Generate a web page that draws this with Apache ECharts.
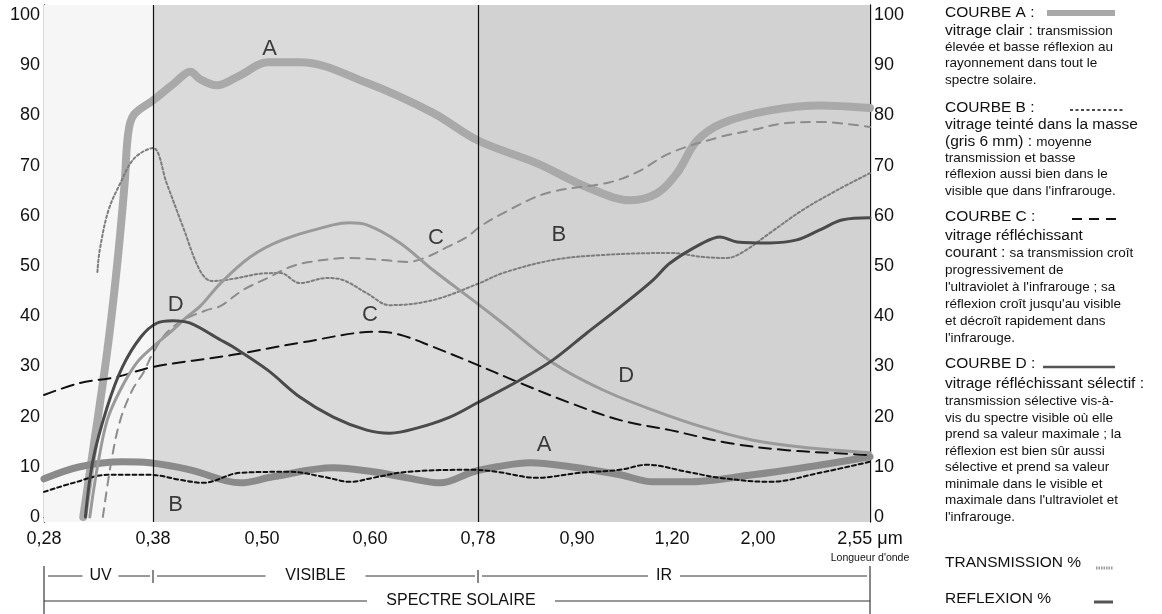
<!DOCTYPE html>
<html><head><meta charset="utf-8">
<script src="https://cdn.jsdelivr.net/npm/echarts@6/dist/echarts.min.js"></script>
<style>html,body{margin:0;padding:0;background:#fff}#c{width:1162px;height:614px}</style>
</head><body><div id="c"></div>
<script>
// ---------- DATA ----------
const xTickValues = [0.28, 0.38, 0.50, 0.60, 0.78, 0.90, 1.20, 2.00, 2.55];
const xTickLabels = ['0,28', '0,38', '0,50', '0,60', '0,78', '0,90', '1,20', '2,00', '2,55 \u03bcm'];
const yTickValues = [0, 10, 20, 30, 40, 50, 60, 70, 80, 90, 100];

// [wavelength (µm), %]
const aTransmission = [[0.316,0],[0.325,13.3],[0.338,33],[0.347,50],[0.354,66.5],[0.357,76],[0.362,80],[0.380,83],[0.404,86.5],[0.421,88.7],[0.432,87.2],[0.450,86],[0.476,88],[0.505,90.6],[0.535,90.6],[0.597,86.5],[0.705,80.5],[0.780,75],[0.851,70.5],[0.932,65.7],[1.068,63.1],[1.153,64.5],[1.247,68.5],[1.433,75],[1.674,78.5],[2.059,81],[2.304,82],[2.55,81.5]];
const aReflection = [[0.28,7.6],[0.313,10],[0.352,11],[0.377,10.8],[0.421,9.4],[0.476,6.8],[0.510,8],[0.566,9.8],[0.605,9],[0.662,7.8],[0.717,6.8],[0.772,9],[0.803,10],[0.843,10.8],[0.892,10],[1.036,8.4],[1.140,7],[1.340,7],[1.953,8.4],[2.221,9.8],[2.55,12]];
const bTransmission = [[0.329,48.8],[0.331,53],[0.339,61],[0.350,66.5],[0.363,71.5],[0.380,73.5],[0.395,66.5],[0.413,57.8],[0.432,49],[0.445,47],[0.470,47.5],[0.500,48.5],[0.517,48.6],[0.535,46.6],[0.560,47.6],[0.575,47.2],[0.597,44.6],[0.633,42.2],[0.705,43.2],[0.782,46.6],[0.810,48.6],[0.871,51.2],[0.982,52.2],[1.194,52.6],[1.488,51.8],[1.712,51.6],[1.861,52.8],[2.059,56.6],[2.221,61.2],[2.388,65.1],[2.55,68.5]];
const bReflection = [[0.28,5],[0.307,6.8],[0.338,8.4],[0.377,8.4],[0.410,7.4],[0.435,6.8],[0.476,8.8],[0.526,9],[0.557,8],[0.582,7],[0.605,7.8],[0.662,9],[0.772,9.4],[0.803,9],[0.851,7.8],[0.909,8.8],[1.036,9.4],[1.121,10.4],[1.340,9],[1.646,7.8],[2.059,7],[2.304,8.8],[2.55,11]];
const cTransmission = [[0.334,0],[0.342,11.4],[0.350,19.3],[0.361,25.3],[0.371,28.7],[0.380,32.7],[0.395,36.7],[0.413,39.2],[0.439,41.2],[0.454,42],[0.479,45.2],[0.505,47.6],[0.526,49.8],[0.544,50.8],[0.581,51.6],[0.622,51.2],[0.662,50.8],[0.695,51.8],[0.729,53.8],[0.762,55.8],[0.782,57.8],[0.810,60.5],[0.863,64.5],[1.004,66.7],[1.090,68.7],[1.194,72.5],[1.646,75.7],[1.953,77.1],[2.142,78.5],[2.304,78.7],[2.55,77.7]];
const cReflection = [[0.28,24.3],[0.313,26.7],[0.347,27.9],[0.380,29.9],[0.468,32.3],[0.535,34.7],[0.612,36.9],[0.650,36.3],[0.705,33.9],[0.767,30.9],[0.831,26.7],[0.892,22.7],[1.036,19.3],[1.194,17.3],[1.739,14.7],[2.142,13.3],[2.388,12.7],[2.55,12.3]];
const dTransmission = [[0.322,0],[0.329,10],[0.338,19.3],[0.350,25.3],[0.365,30.7],[0.380,33.9],[0.402,37.3],[0.417,39.8],[0.432,42],[0.454,46.5],[0.487,51.8],[0.519,55.2],[0.566,58.2],[0.581,58.6],[0.597,58.2],[0.650,54.6],[0.705,49.2],[0.778,42.6],[0.810,38.6],[0.871,30.7],[0.982,25.3],[1.140,21.3],[1.488,17.9],[1.953,15.3],[2.221,13.9],[2.55,12.8]];
const dReflection = [[0.318,0],[0.325,11.4],[0.338,21.9],[0.352,29.9],[0.369,35.9],[0.384,38.6],[0.402,39.1],[0.421,38.6],[0.454,35.3],[0.468,33.9],[0.505,29.3],[0.535,23.9],[0.566,19.9],[0.597,17.3],[0.633,16.7],[0.678,17.7],[0.733,19.9],[0.778,22.7],[0.831,27.3],[0.871,31.3],[0.932,36.7],[1.036,41.8],[1.140,47.2],[1.194,50.6],[1.488,54.6],[1.646,55.8],[1.805,54.8],[2.059,54.6],[2.191,55.2],[2.304,57.2],[2.417,59.2],[2.55,59.6]];

// curve letters [wavelength, %, text]
const curveLabels = [[0.507,93.3,'A'],[0.710,55.6,'C'],[0.878,56.2,'B'],[0.405,42.2,'D'],[0.600,40.2,'C'],[1.055,28.1,'D'],[0.860,14.3,'A'],[0.405,2.4,'B']];

// spectral bands
const bandBounds = [0.28, 0.38, 0.78, 2.55];
const bandNames = ['UV', 'VISIBLE', 'IR'];

// ---------- LAYOUT / STYLE ----------
const FONT = "'Liberation Sans', Arial, Helvetica, sans-serif";
const X_POS = [0, 109, 218, 326, 434, 533, 628, 714, 826]; // axis position of each tick (non-uniform scale)
function toPos(w) {
  const n = xTickValues.length;
  for (let i = 0; i < n - 1; i++) {
    const a = xTickValues[i], b = xTickValues[i + 1];
    if (w <= b || i === n - 2) return X_POS[i] + (w - a) / (b - a) * (X_POS[i + 1] - X_POS[i]);
  }
}
const mapData = arr => arr.map(p => [toPos(p[0]), p[1]]);

const GRID = {left: 44, right: 292, top: 5, bottom: 92};
const YMIN = -1, YMAX = 102;

function lineSeries(name, data, color, width, dash, z) {
  return {
    name, type: 'line', data: mapData(data), showSymbol: false, smooth: 0.35, z: z || 3,
    lineStyle: {color, width, type: dash || 'solid', cap: 'round', join: 'round'},
    emphasis: {disabled: true}, silent: true
  };
}

const chart = echarts.init(document.getElementById('c'), null, {renderer: 'canvas'});

const yAxisCommon = {
  type: 'value', min: YMIN, max: YMAX,
  axisLine: {show: true, lineStyle: {color: '#111', width: 1.3}},
  axisTick: {show: false}, splitLine: {show: false},
  axisLabel: {customValues: yTickValues, color: '#111', fontSize: 18, fontFamily: FONT, margin: 4}
};

const option = {
  animation: false,
  backgroundColor: '#fff',
  grid: GRID,
  xAxis: {
    type: 'value', min: 0, max: X_POS[X_POS.length - 1],
    axisLine: {show: true, lineStyle: {color: '#222', width: 1}},
    axisTick: {show: false}, splitLine: {show: false},
    axisLabel: {
      customValues: X_POS, showMinLabel: true, showMaxLabel: true,
      color: '#111', fontSize: 18, fontFamily: FONT, margin: 8,
      formatter: v => { const i = X_POS.indexOf(v); return i >= 0 ? xTickLabels[i] : ''; }
    }
  },
  yAxis: [
    Object.assign({}, yAxisCommon, {position: 'left'}),
    Object.assign({}, yAxisCommon, {position: 'right'})
  ],
  series: [
    {
      type: 'line', data: [[0, YMIN]], showSymbol: false, z: 1, silent: true,
      lineStyle: {opacity: 0},
      markArea: {
        silent: true,
        data: [
          [{xAxis: toPos(bandBounds[0]), yAxis: YMIN, itemStyle: {color: '#f6f6f6'}}, {xAxis: toPos(bandBounds[1]), yAxis: YMAX}],
          [{xAxis: toPos(bandBounds[1]), yAxis: YMIN, itemStyle: {color: '#dadada'}}, {xAxis: toPos(bandBounds[2]), yAxis: YMAX}],
          [{xAxis: toPos(bandBounds[2]), yAxis: YMIN, itemStyle: {color: '#d2d2d2'}}, {xAxis: toPos(bandBounds[3]), yAxis: YMAX}]
        ]
      },
      markLine: {
        silent: true, symbol: 'none', label: {show: false},
        lineStyle: {color: '#111', width: 1.2, type: 'solid'},
        data: [{xAxis: toPos(bandBounds[1])}, {xAxis: toPos(bandBounds[2])}]
      }
    },
    lineSeries('A transmission', aTransmission, '#a9a9a9', 8, 'solid', 2),
    lineSeries('A réflexion', aReflection, '#8a8a8a', 7, 'solid', 2),
    lineSeries('B transmission', bTransmission, '#7d7d7d', 2, [2.5, 2.5]),
    lineSeries('B réflexion', bReflection, '#111', 2, [4, 3]),
    lineSeries('C transmission', cTransmission, '#8c8c8c', 2, [9, 7]),
    lineSeries('C réflexion', cReflection, '#111', 2, [12, 7]),
    lineSeries('D transmission', dTransmission, '#9a9a9a', 3),
    lineSeries('D réflexion', dReflection, '#4a4a4a', 3),
    {
      type: 'scatter', symbolSize: 0, z: 5, silent: true,
      data: curveLabels.map(l => [toPos(l[0]), l[1], l[2]]),
      label: {show: true, position: 'inside', formatter: p => p.data[2], fontSize: 22, color: '#111', fontFamily: FONT}
    }
  ]
};
chart.setOption(option);

// ---------- annotations (bands below the axis, legend at right) ----------
const px = w => chart.convertToPixel({xAxisIndex: 0}, toPos(w));
const g = [];
const txt = (x, y, text, size, align, extra) => g.push({type: 'text', x, y, silent: true,
  style: Object.assign({text, fontSize: size, fontFamily: FONT, fill: '#111', align: align || 'left', verticalAlign: 'middle'}, extra || {})});
const ln = (x1, y1, x2, y2, stroke, w, dash) => g.push({type: 'line', silent: true,
  shape: {x1, y1, x2, y2}, style: {stroke, lineWidth: w, lineDash: dash || null}});

const rowY = 576, row2Y = 601;
const bx = bandBounds.map(px);
// axis name under the last tick label
txt(bx[3], 558, "Longueur d'onde", 10.5, 'center');
// end ticks
ln(bx[0], 566, bx[0], 614, '#111', 1);
ln(bx[3], 566, bx[3], 614, '#111', 1);
ln(bx[1], 570, bx[1], 583, '#111', 1);
ln(bx[2], 570, bx[2], 583, '#111', 1);
// band rows
const bandText = [{c: (bx[0] + bx[1]) / 2 + 2, hw: 14}, {c: (bx[1] + bx[2]) / 2, hw: 46}, {c: 664, hw: 12}];
bandNames.forEach((name, i) => {
  const c = bandText[i].c, hw = bandText[i].hw;
  ln(bx[i] + 4, rowY, c - hw - 4, rowY, '#333', 1);
  ln(c + hw + 4, rowY, bx[i + 1] - 3, rowY, '#333', 1);
  txt(c, rowY, name, 16, 'center');
});
ln(bx[0], row2Y, 367, row2Y, '#333', 1);
ln(555, row2Y, bx[3], row2Y, '#333', 1);
txt(461, row2Y, 'SPECTRE SOLAIRE', 16, 'center');

// legend
const LX = 945;
const rich = {b: {fontSize: 15.5, fontFamily: FONT, fill: '#111'}, s: {fontSize: 13.5, fontFamily: FONT, fill: '#111'}};
const legendLines = [
  [13, '{b|COURBE A :}'],
  [31, '{b|vitrage clair :} {s|transmission}'],
  [47, '{s|élevée et basse réflexion au}'],
  [63, '{s|rayonnement dans tout le}'],
  [80, '{s|spectre solaire.}'],
  [108, '{b|COURBE B :}'],
  [125, '{b|vitrage teinté dans la masse}'],
  [142, '{b|(gris 6 mm) :} {s|moyenne}'],
  [158, '{s|transmission et basse}'],
  [174, '{s|réflexion aussi bien dans le}'],
  [191, "{s|visible que dans l'infrarouge.}"],
  [217, '{b|COURBE C :}'],
  [236, '{b|vitrage réfléchissant}'],
  [253, '{b|courant :} {s|sa transmission croît}'],
  [270, '{s|progressivement de}'],
  [287, "{s|l'ultraviolet à l'infrarouge ; sa}"],
  [304, "{s|réflexion croît jusqu'au visible}"],
  [321, '{s|et décroît rapidement dans}'],
  [338, "{s|l'infrarouge.}"],
  [364, '{b|COURBE D :}'],
  [384, '{b|vitrage réfléchissant sélectif :}'],
  [401, '{s|transmission sélective vis-à-}'],
  [418, '{s|vis du spectre visible où elle}'],
  [434, '{s|prend sa valeur maximale ; la}'],
  [451, '{s|réflexion est bien sûr aussi}'],
  [467, '{s|sélective et prend sa valeur}'],
  [484, '{s|minimale dans le visible et}'],
  [500, "{s|maximale dans l'ultraviolet et}"],
  [517, "{s|l'infrarouge.}"],
  [563, '{b|TRANSMISSION %}'],
  [599, '{b|REFLEXION %}']
];
legendLines.forEach(([y, t]) => txt(LX, y, t, 15, 'left', {rich}));
// legend samples
ln(1047, 13, 1115, 13, '#a9a9a9', 6);
ln(1070, 110, 1123, 110, '#111', 1.6, [3, 2.5]);
ln(1072, 219, 1122, 219, '#111', 1.8, [10, 7]);
ln(1043, 367, 1115, 367, '#555', 2.4);
ln(1096, 568, 1113, 568, '#9a9a9a', 3, [1.5, 1]);
ln(1094, 602, 1113, 602, '#555', 3);

chart.setOption({graphic: {elements: g}});
</script>
</body></html>
